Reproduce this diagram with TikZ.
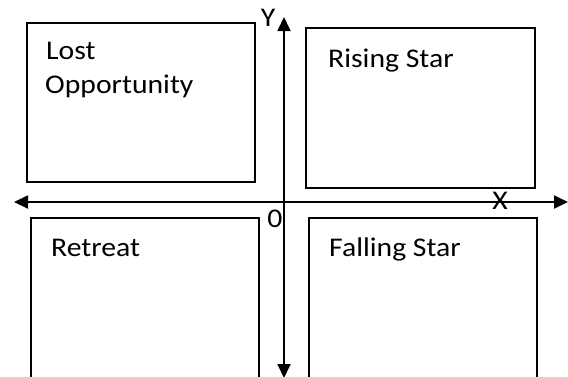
\documentclass[tikz,border=0pt]{standalone}
\usepackage{fontspec}
\setmainfont{Carlito}[FakeStretch=1.1]
\usetikzlibrary{arrows.meta, positioning, calc}

\tikzset{
    quad/.style={draw, line width=1.8pt, rectangle, anchor=north west, inner sep=0pt},
    lbl/.style={anchor=base west, inner sep=0pt, font=\fontsize{27}{32}\selectfont},
    axis/.style={line width=1.8pt, {Triangle[length=14pt,width=13pt]}-{Triangle[length=14pt,width=13pt]}}
}

\begin{document}
\begin{tikzpicture}[x=1pt, y=-1pt]
    \useasboundingbox (0,0) rectangle (568,376);

    % Draw the four quadrant boxes
    \node[quad, minimum width=228pt, minimum height=159pt] (lost) at (26,22) {};
    \node[quad, minimum width=229pt, minimum height=160pt] (rising) at (305,27) {};
    \node[quad, minimum width=228pt, minimum height=170pt] (retreat) at (30,217) {};
    \node[quad, minimum width=228pt, minimum height=170pt] (falling) at (308,217) {};

    % Box labels
    \node[lbl] (lostA) at (46,59) {Lost};
    \node[lbl] (lostB) at (45,93) {Opportunity};
    \node[lbl] (risingL) at (328,67) {Rising Star};
    \node[lbl] (retreatL) at (51,256) {Retreat};
    \node[lbl] (fallingL) at (329,256) {Falling Star};

    % Axis end points
    \coordinate (ytop) at (284,17);
    \coordinate (ybot) at (284,378);
    \coordinate (xleft) at (14,202);
    \coordinate (xright) at (568,202);

    % Draw the axes
    \draw[axis] (xleft) -- (xright); % x axis
    \draw[axis] (ybot) -- (ytop); % y axis

    % Axis labels
    \node[lbl, anchor=center] (ylab) at (268,18) {Y};
    \node[lbl, anchor=center] (xlab) at (500,201) {X};
    \node[lbl, anchor=center] (origin) at (275,219) {0};
\end{tikzpicture}
\end{document}
